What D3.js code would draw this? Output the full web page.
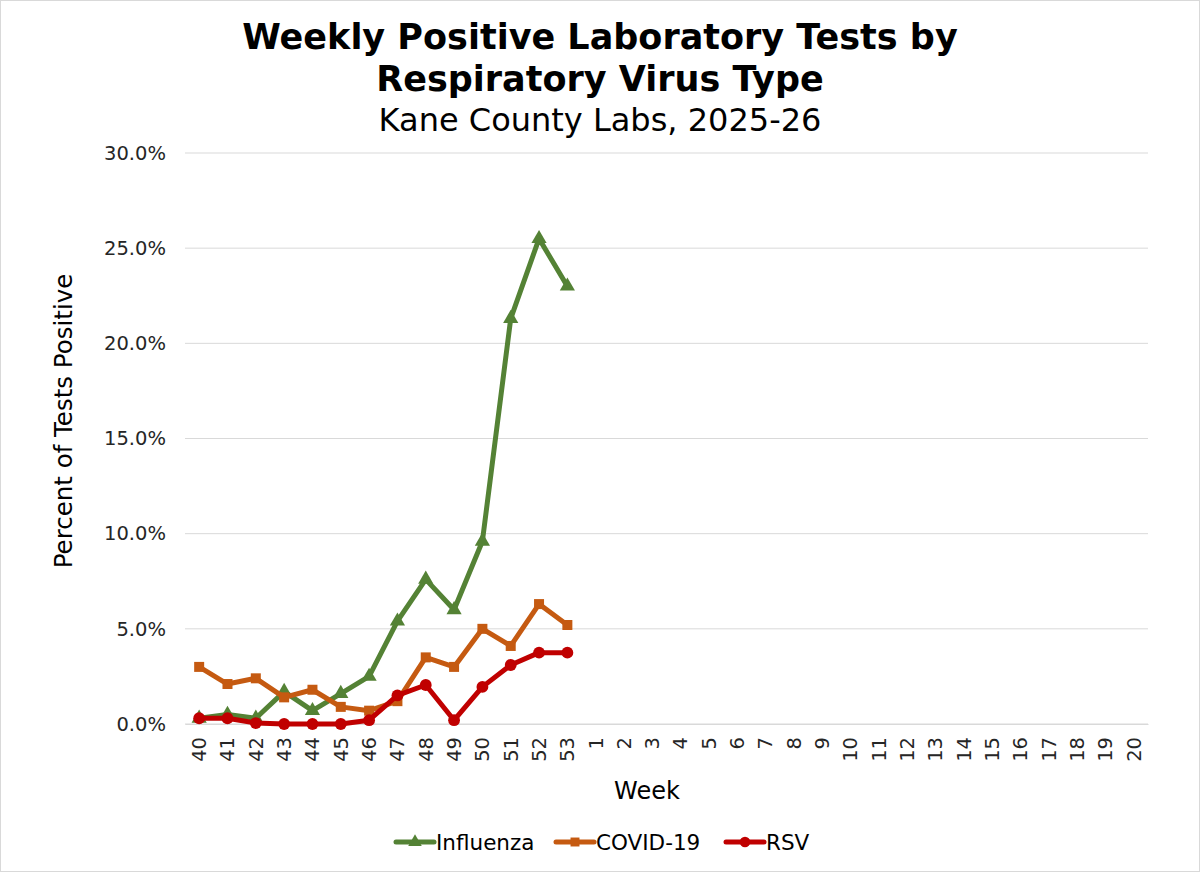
<!DOCTYPE html>
<html>
<head>
<meta charset="utf-8">
<script src="https://cdn.jsdelivr.net/npm/d3@7"></script>
<style>
  body { margin: 0; background: #fff; }
  svg { display: block; font-family: "DejaVu Sans", Verdana, sans-serif; }
</style>
</head>
<body>
<div id="chart"></div>
<script>
// weeks of the 2025-26 season
var weeks = ["40","41","42","43","44","45","46","47","48","49","50","51","52","53",
    "1","2","3","4","5","6","7","8","9","10","11","12","13","14","15","16","17","18","19","20"];

// percent positive, only reported weeks so far
var influenza = [0.3, 0.5, 0.3, 1.7, 0.7, 1.6, 2.5, 5.4, 7.6, 6.0, 9.6, 21.3, 25.5, 23.0];
var covid = [3.0, 2.1, 2.4, 1.4, 1.8, 0.9, 0.7, 1.2, 3.5, 3.0, 5.0, 4.1, 6.3, 5.2];
var rsv = [0.3, 0.3, 0.05, 0.0, 0.0, 0.0, 0.2, 1.5, 2.05, 0.2, 1.95, 3.1, 3.75, 3.75];

var yTicks = [0, 5, 10, 15, 20, 25, 30];

var series = [
    { name: "Influenza", values: influenza, color: "#548235", symbol: d3.symbolTriangle, size: 100 },
    { name: "COVID-19", values: covid, color: "#C55A11", symbol: d3.symbolSquare, size: 100 },
    { name: "RSV", values: rsv, color: "#C00000", symbol: d3.symbolCircle, size: 110 }
];

var width = 1200, height = 872;
var margin = { top: 153, right: 52, bottom: 148, left: 185 };

var svg = d3.select("#chart")
    .append("svg")
    .attr("width", width)
    .attr("height", height);

// outer frame
svg.append("rect")
    .attr("x", 0.5).attr("y", 0.5)
    .attr("width", width - 1).attr("height", height - 1)
    .style("fill", "white")
    .style("stroke", "#d9d9d9");

var x = d3.scaleBand()
    .domain(weeks)
    .range([margin.left, width - margin.right]);

var y = d3.scaleLinear()
    .domain([0, 30])
    .range([height - margin.bottom, margin.top]);

// gridlines
svg.append("g")
    .selectAll("line")
    .data(yTicks)
    .enter()
    .append("line")
    .attr("x1", margin.left)
    .attr("x2", width - margin.right)
    .attr("y1", function(d) { return y(d); })
    .attr("y2", function(d) { return y(d); })
    .style("stroke", "#d9d9d9")
    .style("stroke-width", 1);

// y axis
var yAxis = svg.append("g")
    .attr("transform", "translate(" + margin.left + ",0)")
    .call(d3.axisLeft(y).tickValues(yTicks).tickSize(0).tickPadding(19)
        .tickFormat(function(d) { return d.toFixed(1) + "%"; }));
yAxis.select(".domain").remove();
yAxis.selectAll("text")
    .style("font-size", "19.5px")
    .style("fill", "#262626")
    .style("font-family", "DejaVu Sans, sans-serif");

// x axis
var xAxis = svg.append("g")
    .attr("transform", "translate(0," + y(0) + ")")
    .call(d3.axisBottom(x).tickSize(0));
xAxis.select(".domain")
    .style("stroke", "#d9d9d9");
xAxis.selectAll("text")
    .attr("transform", "rotate(-90)")
    .attr("x", -13)
    .attr("y", 0)
    .attr("dy", "0.35em")
    .style("text-anchor", "end")
    .style("font-size", "19.5px")
    .style("fill", "#262626")
    .style("font-family", "DejaVu Sans, sans-serif");

// lines and markers
var line = d3.line()
    .x(function(d, i) { return x(weeks[i]) + x.bandwidth() / 2; })
    .y(function(d) { return y(d); });

series.forEach(function(s) {
    svg.append("path")
        .datum(s.values)
        .attr("d", line)
        .style("fill", "none")
        .style("stroke", s.color)
        .style("stroke-width", 5)
        .style("stroke-linejoin", "round");

    svg.append("g")
        .selectAll("path")
        .data(s.values)
        .enter()
        .append("path")
        .attr("d", d3.symbol().type(s.symbol).size(s.size))
        .attr("transform", function(d, i) {
            return "translate(" + (x(weeks[i]) + x.bandwidth() / 2) + "," + y(d) + ")";
        })
        .style("fill", s.color);
});

// titles
svg.append("text")
    .attr("x", 600).attr("y", 49)
    .attr("text-anchor", "middle")
    .style("font-size", "35px")
    .style("font-weight", "bold")
    .style("fill", "#000")
    .text("Weekly Positive Laboratory Tests by");

svg.append("text")
    .attr("x", 600).attr("y", 91)
    .attr("text-anchor", "middle")
    .style("font-size", "35px")
    .style("font-weight", "bold")
    .style("fill", "#000")
    .text("Respiratory Virus Type");

svg.append("text")
    .attr("x", 600).attr("y", 131)
    .attr("text-anchor", "middle")
    .style("font-size", "32px")
    .style("fill", "#000")
    .text("Kane County Labs, 2025-26");

// axis titles
svg.append("text")
    .attr("transform", "translate(72,421) rotate(-90)")
    .attr("text-anchor", "middle")
    .style("font-size", "24.5px")
    .style("fill", "#000")
    .text("Percent of Tests Positive");

svg.append("text")
    .attr("x", 647)
    .attr("y", 799)
    .attr("text-anchor", "middle")
    .style("font-size", "24px")
    .style("fill", "#000")
    .text("Week");

// legend
var legendX = [396, 556, 726];
var legend = svg.append("g")
    .selectAll("g")
    .data(series)
    .enter()
    .append("g")
    .attr("transform", function(d, i) { return "translate(" + legendX[i] + ",842)"; });

legend.append("line")
    .attr("x1", 0).attr("x2", 38)
    .style("stroke", function(d) { return d.color; })
    .style("stroke-width", 5)
    .style("stroke-linecap", "round");

legend.append("path")
    .attr("d", function(d) { return d3.symbol().type(d.symbol).size(d.size * 0.8)(); })
    .attr("transform", "translate(19,0)")
    .style("fill", function(d) { return d.color; });

legend.append("text")
    .attr("x", 40)
    .attr("dy", "0.35em")
    .style("font-size", "21.5px")
    .style("fill", "#000")
    .text(function(d) { return d.name; });
</script>
</body>
</html>
